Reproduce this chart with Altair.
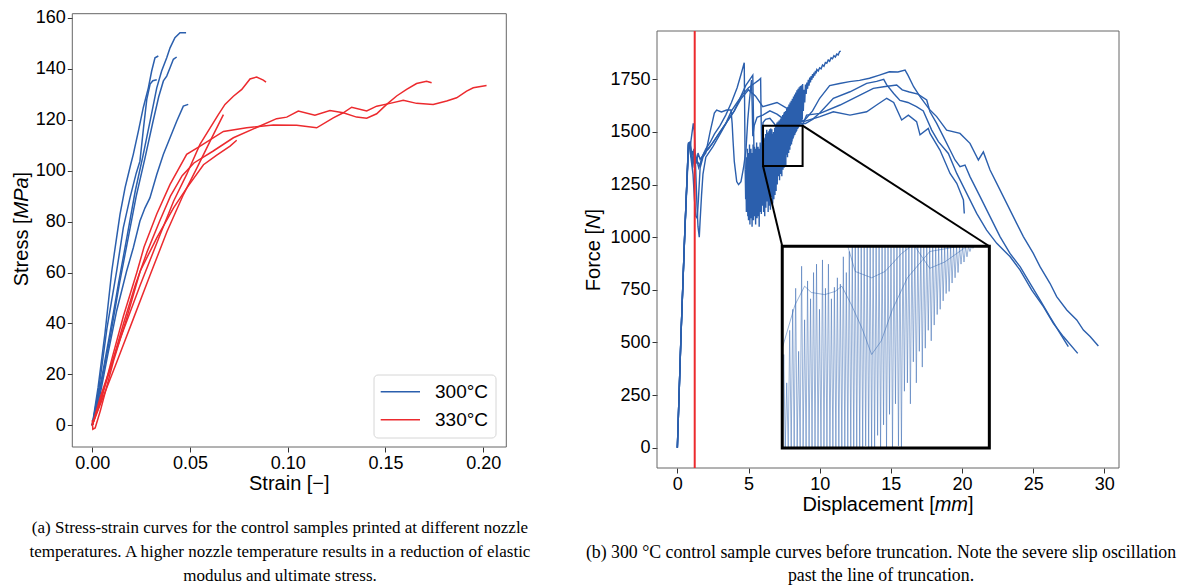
import altair as alt
import pandas as pd

SANS = "Liberation Sans"
SERIF = "Liberation Serif"
BLUE = "#2b5fad"
RED = "#ec2a2e"
FRAME = "#666666"

# ====================== panel (a): stress-strain ======================
SERIES_A = ["300°C", "330°C"]
A_TICKS_X = [0.0, 0.05, 0.10, 0.15, 0.20]
A_TICKS_Y = [0, 20, 40, 60, 80, 100, 120, 140, 160]

A300_1_STRAIN = [0, 0.003, 0.0065, 0.010, 0.0117, 0.0142, 0.0168, 0.0197, 0.021, 0.0236, 0.0261, 0.0287, 0.0304, 0.0321, 0.0338]
A300_1_STRESS = [0, 15, 36, 60.6, 69.7, 82.8, 93.3, 102.5, 106.4, 115.5, 124.7, 132.5, 139.1, 144.3, 145]
A300_2_STRAIN = [0, 0.0035, 0.0075, 0.0125, 0.0159, 0.0193, 0.0225, 0.0244, 0.0262, 0.0279, 0.0296, 0.031, 0.033]
A300_2_STRESS = [0, 15, 38, 60.6, 77.6, 89.3, 99, 103.7, 116.6, 128, 134, 135.3, 135.7]
A300_3_STRAIN = [0, 0.004, 0.009, 0.0135, 0.018, 0.022, 0.026, 0.030, 0.033, 0.0355, 0.0381, 0.0398, 0.0423, 0.0449, 0.048]
A300_3_STRESS = [0, 15, 36, 56, 75, 92, 106, 121, 132.5, 139.1, 144.3, 148.2, 152.2, 154.1, 154.1]
A300_4_STRAIN = [0, 0.004, 0.0095, 0.014, 0.0185, 0.0225, 0.027, 0.031, 0.034, 0.0364, 0.0381, 0.0398, 0.0415, 0.0432]
A300_4_STRESS = [0, 14, 36, 56, 74, 90, 105, 119, 129, 135.2, 137.1, 140.4, 143.7, 144.6]
A300_5_STRAIN = [0, 0.004, 0.008, 0.0125, 0.0176, 0.021, 0.0244, 0.027, 0.0295, 0.033, 0.0364, 0.0398, 0.0432, 0.0466, 0.0491]
A300_5_STRESS = [0, 12, 28, 45, 60.6, 69.7, 80.2, 85.4, 89.3, 98.5, 106.4, 112.9, 119.4, 125.3, 126]

A330_1_STRAIN = [0, 0.0041, 0.0143, 0.0245, 0.0348, 0.0416, 0.0483, 0.0551, 0.0645, 0.0679, 0.0722, 0.0765, 0.0807, 0.0841, 0.0875, 0.0889]
A330_1_STRESS = [0, 11, 34, 55, 75, 88, 98.5, 110.3, 122, 126, 129.2, 131.9, 136.0, 136.7, 135.5, 134.7]
A330_2_STRAIN = [0, 0.004, 0.0126, 0.0211, 0.0296, 0.0382, 0.0467, 0.0535, 0.0603, 0.0671]
A330_2_STRESS = [0, 8, 25, 42, 59, 76, 90.7, 101, 111.6, 122]
A330_3_STRAIN = [0, 0.005, 0.010, 0.016, 0.0228, 0.0265, 0.033, 0.0398, 0.0483, 0.0552, 0.0671, 0.079, 0.0926,
                 0.1046, 0.1148, 0.1233, 0.1284, 0.1327, 0.1404, 0.1455, 0.1523, 0.1591, 0.1659, 0.1744, 0.1813,
                 0.1864, 0.1915, 0.1949, 0.2017]
A330_3_STRESS = [0, 11, 26, 43, 60, 70, 83, 94.6, 106.4, 109.6, 115.4, 116.8, 117.9,
                 117.8, 116.8, 120.7, 122.7, 124.9, 123.4, 125.3, 126.4, 127.6, 126.4, 126, 127.3,
                 128.6, 131.2, 132.5, 133.4]
A330_4_STRAIN = [0, 0.005, 0.010, 0.016, 0.022, 0.028, 0.0344, 0.040, 0.046, 0.052, 0.0619, 0.0722, 0.0858,
                 0.0943, 0.0995, 0.1054, 0.1139, 0.1216, 0.1284, 0.1352, 0.1404, 0.1455, 0.1506, 0.1557,
                 0.1608, 0.1659, 0.171, 0.1736]
A330_4_STRESS = [0, 12, 24, 40, 55, 68, 80, 90, 98, 103, 107.7, 112.9, 117.5,
                 120.4, 121, 123.4, 121.7, 123.6, 122.7, 121, 120.6, 122.3, 126, 129.3,
                 131.9, 134.2, 135.1, 134.5]
A330_5_STRAIN = [0.0, 0.0003, 0.0015, 0.0041, 0.0109, 0.0177, 0.0245, 0.033, 0.0416, 0.0484, 0.0569, 0.0637, 0.0705, 0.0739]
A330_5_STRESS = [2, -1.5, -1, 5.6, 25.3, 42.3, 60.5, 73.6, 85.4, 93.2, 102.3, 106.1, 109.6, 111.9]

A_CURVES = [
    ("300-1", SERIES_A[0], A300_1_STRAIN, A300_1_STRESS),
    ("300-2", SERIES_A[0], A300_2_STRAIN, A300_2_STRESS),
    ("300-3", SERIES_A[0], A300_3_STRAIN, A300_3_STRESS),
    ("300-4", SERIES_A[0], A300_4_STRAIN, A300_4_STRESS),
    ("300-5", SERIES_A[0], A300_5_STRAIN, A300_5_STRESS),
    ("330-1", SERIES_A[1], A330_1_STRAIN, A330_1_STRESS),
    ("330-2", SERIES_A[1], A330_2_STRAIN, A330_2_STRESS),
    ("330-3", SERIES_A[1], A330_3_STRAIN, A330_3_STRESS),
    ("330-4", SERIES_A[1], A330_4_STRAIN, A330_4_STRESS),
    ("330-5", SERIES_A[1], A330_5_STRAIN, A330_5_STRESS),
]

# ====================== panel (b): force-displacement ======================
B_TICKS_X = [0, 5, 10, 15, 20, 25, 30]
B_TICKS_Y = [0, 250, 500, 750, 1000, 1250, 1500, 1750]
TRUNCATION = [1.22]
ZOOM_WINDOW = [6.02, 8.80, 1338, 1530]      # displacement from/to, force from/to
INSET_WINDOW = [7.37, 21.92, -1.4, 957]     # where the magnified view sits (data units)

B_P1 = [(0, 0), (0.26, 540), (0.52, 1015), (0.8, 1445), (0.9, 1440), (1.0, 1380), (1.1, 1350), (1.25, 1400),
        (1.4, 1360), (1.6, 1340), (1.8, 1390), (2.0, 1410), (2.4, 1440), (2.8, 1480), (3.2, 1520), (3.6, 1560),
        (4.0, 1600), (4.4, 1660), (4.8, 1720), (5.1, 1750), (5.3, 1770), (5.34, 1600), (5.38, 1420), (5.6, 1380),
        (5.8, 1400), (6.02, 1433), (6.19, 1474), (6.32, 1492), (6.41, 1486), (6.59, 1484), (6.73, 1487),
        (6.82, 1492), (6.95, 1474), (7.09, 1452), (7.22, 1427), (7.35, 1440), (7.5, 1470), (7.7, 1500),
        (8.0, 1525), (8.4, 1545), (8.8, 1550), (9.0, 1560), (9.5, 1600), (10.0, 1660), (10.7, 1720),
        (11.4, 1730), (12.1, 1739), (12.8, 1745), (13.5, 1755), (14.2, 1770), (14.9, 1786), (15.5, 1785),
        (16.0, 1794), (16.2, 1770), (16.6, 1715), (17.05, 1668), (17.75, 1604), (18.22, 1573), (18.92, 1509),
        (19.86, 1493), (20.56, 1446), (21.15, 1367), (21.5, 1405), (21.97, 1319), (22.44, 1256), (23.14, 1161),
        (23.84, 1066), (24.31, 1003), (25.01, 923), (25.48, 860), (26.18, 781), (26.65, 718), (27.36, 654),
        (28.06, 607), (28.53, 559), (29.0, 528), (29.58, 483)]
B_P2 = [(0, 0), (0.26, 545), (0.52, 1020), (0.78, 1440), (0.88, 1420), (0.95, 1380), (1.05, 1410), (1.2, 1340),
        (1.35, 1370), (1.5, 1330), (1.7, 1370), (1.9, 1400), (2.2, 1420), (2.6, 1460), (3.0, 1500), (3.4, 1540),
        (3.8, 1600), (4.2, 1640), (4.6, 1680), (5.0, 1710), (5.4, 1730), (5.7, 1745), (5.85, 1755), (5.88, 1600),
        (5.92, 1420), (5.98, 1500), (6.02, 1545), (6.2, 1560), (6.5, 1565), (6.8, 1540), (6.9, 1530),
        (7.0, 1506), (7.22, 1500), (7.4, 1506), (7.62, 1523), (7.75, 1535), (8.0, 1545), (8.5, 1540),
        (9.0, 1540), (9.5, 1560), (10.0, 1590), (10.96, 1660), (12.13, 1691), (13.3, 1731), (14.0, 1740),
        (14.5, 1750), (14.7, 1725), (15.2, 1683), (15.64, 1650), (16.2, 1640), (16.8, 1620), (17.28, 1600),
        (17.87, 1509), (18.34, 1454), (19.04, 1398), (19.63, 1303), (20.33, 1208), (21.03, 1113),
        (21.73, 1034), (22.44, 971), (23.37, 908), (24.08, 844), (24.9, 749), (25.72, 670), (26.42, 591),
        (27.12, 528), (28.13, 448)]
B_P3 = [(0, 0), (0.26, 540), (0.52, 1018), (0.78, 1445), (0.85, 1450), (0.95, 1380), (1.1, 1300), (1.2, 1180),
        (1.3, 1100), (1.4, 1090), (1.48, 1180), (1.6, 1330), (1.8, 1380), (2.0, 1400), (2.3, 1500), (2.6, 1590),
        (2.76, 1604), (3.1, 1595), (3.46, 1604), (3.77, 1604), (3.85, 1540), (3.91, 1462), (4.0, 1360),
        (4.17, 1264), (4.3, 1250), (4.47, 1264), (4.65, 1330), (4.82, 1414), (4.95, 1560), (5.07, 1653),
        (5.21, 1747), (5.26, 1620), (5.3, 1480), (5.4, 1530), (5.6, 1570), (6.0, 1580), (6.5, 1600),
        (7.0, 1585), (7.5, 1560), (7.8, 1530), (8.0, 1509), (8.2, 1515), (8.5, 1530), (8.8, 1535),
        (9.08, 1580), (10.02, 1588), (11.43, 1628), (12.83, 1675), (13.77, 1707), (14.5, 1715), (15.41, 1723),
        (15.8, 1700), (16.3, 1690), (16.9, 1680), (17.52, 1652), (17.75, 1596), (18.22, 1541), (18.69, 1478),
        (19.16, 1414), (19.51, 1367), (19.86, 1335), (20.21, 1343), (20.56, 1288), (21.27, 1193),
        (21.97, 1098), (22.67, 1003), (23.37, 923), (24.08, 860), (24.78, 781), (25.48, 702), (26.18, 622),
        (26.89, 543), (27.47, 480)]
B_P4 = [(0, 0), (0.26, 543), (0.52, 1022), (0.78, 1450), (0.9, 1430), (1.0, 1480), (1.12, 1541), (1.2, 1500),
        (1.3, 1300), (1.38, 1150), (1.45, 1050), (1.54, 1000), (1.6, 1080), (1.7, 1200), (1.8, 1300),
        (2.0, 1380), (2.5, 1430), (3.0, 1490), (3.5, 1550), (4.0, 1600), (4.5, 1660), (5.0, 1700), (5.5, 1670),
        (6.0, 1620), (7.0, 1640), (8.0, 1600), (8.85, 1549), (10.02, 1573), (10.96, 1596), (12.13, 1580),
        (13.3, 1596), (14.0, 1628), (14.71, 1660), (15.2, 1640), (15.76, 1557), (16.23, 1580), (16.81, 1549),
        (17.05, 1486), (17.63, 1517), (17.75, 1493), (18.45, 1414), (19.16, 1303), (19.63, 1256), (20.1, 1177),
        (20.16, 1113)]
# the specimen with severe slip oscillation (ends at 11.5 mm)
B_P5 = [(0, 0), (0.26, 538), (0.52, 1016), (0.78, 1442), (0.92, 1450), (1.0, 1400), (1.08, 1330), (1.16, 1420),
        (1.25, 1380), (1.35, 1350), (1.45, 1400), (1.6, 1370), (1.8, 1390), (2.0, 1420), (2.3, 1450),
        (2.6, 1490), (3.0, 1530), (3.4, 1580), (3.8, 1640), (4.2, 1710), (4.5, 1780), (4.7, 1829),
        (4.73, 1600), (4.76, 1350), (4.8, 1180),
        (4.82, 1300), (4.85, 1120), (4.87, 1380), (4.9, 1150), (4.92, 1420), (4.95, 1100), (4.97, 1350),
        (5.0, 1080), (5.02, 1400), (5.05, 1130), (5.07, 1440), (5.1, 1060), (5.12, 1380), (5.15, 1100),
        (5.17, 1420), (5.2, 1090), (5.22, 1360), (5.25, 1050), (5.27, 1400), (5.3, 1120), (5.32, 1440),
        (5.35, 1080), (5.37, 1390), (5.4, 1150), (5.42, 1430), (5.45, 1100), (5.47, 1380), (5.5, 1060),
        (5.52, 1420), (5.55, 1130), (5.57, 1450), (5.6, 1090), (5.62, 1400), (5.65, 1140), (5.67, 1430),
        (5.7, 1100), (5.72, 1380), (5.75, 1050), (5.77, 1420), (5.8, 1120), (5.82, 1450), (5.85, 1160),
        (5.87, 1410), (5.9, 1110), (5.92, 1440), (5.95, 1180), (5.97, 1460), (6.0, 1150),
        (6.02, 1180), (6.04, 1427), (6.06, 1120), (6.08, 1400), (6.10, 1210), (6.12, 1450), (6.14, 1100),
        (6.16, 1470), (6.18, 1250), (6.20, 1490), (6.22, 1140), (6.24, 1430), (6.26, 1230), (6.28, 1511),
        (6.30, 1170), (6.32, 1460), (6.34, 1280), (6.36, 1497), (6.38, 1120), (6.40, 1480), (6.42, 1260),
        (6.44, 1505), (6.46, 1150), (6.48, 1513), (6.50, 1300), (6.52, 1470), (6.54, 1130), (6.56, 1517),
        (6.58, 1270), (6.60, 1490), (6.62, 1190), (6.64, 1513), (6.66, 1310), (6.68, 1480), (6.70, 1160),
        (6.72, 1491), (6.74, 1320), (6.76, 1500), (6.78, 1180), (6.80, 1494), (6.82, 1300), (6.84, 1520),
        (6.86, 1200), (6.88, 1505), (6.90, 1330), (6.92, 1525), (6.94, 1220), (6.96, 1538), (6.98, 1320),
        (7.00, 1545), (7.02, 1250), (7.04, 1540), (7.06, 1330), (7.08, 1550), (7.10, 1290), (7.12, 1545),
        (7.14, 1340), (7.16, 1555), (7.18, 1270), (7.20, 1548), (7.22, 1330), (7.24, 1560), (7.26, 1300),
        (7.28, 1565), (7.30, 1350), (7.32, 1558), (7.34, 1290), (7.36, 1572), (7.38, 1360), (7.40, 1580),
        (7.42, 1320), (7.44, 1570), (7.46, 1370), (7.48, 1588), (7.50, 1330), (7.52, 1595), (7.54, 1380),
        (7.56, 1585), (7.58, 1340), (7.60, 1600), (7.62, 1335), (7.64, 1598), (7.66, 1392), (7.68, 1612),
        (7.70, 1400), (7.72, 1605), (7.74, 1380), (7.76, 1620), (7.78, 1420), (7.80, 1612), (7.82, 1400),
        (7.84, 1630), (7.86, 1430), (7.88, 1622), (7.90, 1415), (7.92, 1640), (7.94, 1433), (7.96, 1632),
        (7.98, 1450), (8.00, 1648), (8.02, 1440), (8.04, 1640), (8.06, 1455), (8.08, 1658), (8.10, 1465),
        (8.12, 1650), (8.14, 1470), (8.16, 1668), (8.18, 1478), (8.20, 1660), (8.22, 1485), (8.24, 1678),
        (8.26, 1487), (8.28, 1670), (8.30, 1495), (8.32, 1688), (8.34, 1500), (8.36, 1680), (8.38, 1505),
        (8.40, 1698), (8.42, 1513), (8.44, 1690), (8.46, 1515), (8.48, 1705), (8.50, 1520), (8.52, 1698),
        (8.54, 1525), (8.56, 1712), (8.58, 1528), (8.60, 1705), (8.62, 1535), (8.64, 1718), (8.66, 1540),
        (8.68, 1710), (8.70, 1545), (8.72, 1722), (8.74, 1555), (8.76, 1715), (8.78, 1560), (8.80, 1728),
        (8.85, 1600), (8.9, 1700), (8.95, 1640), (9.0, 1725), (9.05, 1680), (9.1, 1735), (9.15, 1705),
        (9.2, 1748), (9.25, 1720), (9.3, 1758), (9.35, 1735), (9.4, 1765), (9.45, 1748), (9.5, 1775),
        (9.55, 1758), (9.6, 1782), (9.65, 1768), (9.7, 1790), (9.75, 1778), (9.8, 1797), (9.9, 1790),
        (10.0, 1805), (10.1, 1800), (10.2, 1818), (10.3, 1812), (10.4, 1830), (10.5, 1826), (10.6, 1842),
        (10.7, 1836), (10.8, 1852), (10.9, 1848), (11.0, 1862), (11.1, 1856), (11.2, 1870), (11.3, 1866),
        (11.4, 1882), (11.48, 1884)]
B_CURVES = [("P1", B_P1), ("P2", B_P2), ("P3", B_P3), ("P4", B_P4), ("P5", B_P5)]

CAPTION_A = ["(a) Stress-strain curves for the control samples printed at different nozzle",
             "temperatures. A higher nozzle temperature results in a reduction of elastic",
             "modulus and ultimate stress."]
CAPTION_B = ["(b) 300 °C control sample curves before truncation. Note the severe slip oscillation",
             "past the line of truncation."]

# ====================== tables ======================
rows_a = []
for name, series, xs, ys in A_CURVES:
    for i, (x, y) in enumerate(zip(xs, ys)):
        rows_a.append({"curve": name, "series": series, "strain": x, "stress": y, "idx": i})
df_a = pd.DataFrame(rows_a)

rows_b = []
for name, pts in B_CURVES:
    for i, (d, f) in enumerate(pts):
        rows_b.append({"curve": name, "d": d, "f": f, "idx": i})
df_b = pd.DataFrame(rows_b)

ONE = pd.DataFrame({"k": [0]})

# ====================== layout (chart pixels) ======================
W, H = 1173, 579
XA_RNG, YA_RNG = [64.3, 498.3], [439.0, 5.7]
XB_RNG, YB_RNG = [649.0, 1111.0], [460.0, 23.0]


def xa():
    return alt.Scale(domain=[-0.0102, 0.2118], range=XA_RNG, nice=False, zero=False)


def ya():
    return alt.Scale(domain=[-8.5, 161.6], range=YA_RNG, nice=False, zero=False)


def xb():
    return alt.Scale(domain=[-1.43, 31.03], range=XB_RNG, nice=False, zero=False)


def yb():
    return alt.Scale(domain=[-96.4, 1979.6], range=YB_RNG, nice=False, zero=False)


ax_kw = dict(title=None, grid=False, domain=False, labelFlush=False, labelOverlap=False)
AXA_X = alt.Axis(orient="bottom", offset=YA_RNG[0] - H, values=A_TICKS_X, format=".2f", **ax_kw)
AXA_Y = alt.Axis(orient="left", offset=-XA_RNG[0], values=A_TICKS_Y, format="d", **ax_kw)
AXB_X = alt.Axis(orient="bottom", offset=YB_RNG[0] - H, values=B_TICKS_X, format="d", **ax_kw)
AXB_Y = alt.Axis(orient="left", offset=-XB_RNG[0], values=B_TICKS_Y, format="d", **ax_kw)

# ---- panel (a)
panel_a = alt.Chart(df_a).mark_line(strokeWidth=1.5).encode(
    x=alt.X("strain:Q", scale=xa(), axis=AXA_X),
    y=alt.Y("stress:Q", scale=ya(), axis=AXA_Y),
    color=alt.Color("series:N", scale=alt.Scale(domain=SERIES_A, range=[BLUE, RED]), legend=None),
    detail="curve:N",
    order="idx:Q",
)

# ---- panel (b)
b_main = alt.Chart(df_b).mark_line(color=BLUE, strokeWidth=1.4).encode(
    x=alt.X("d:Q", scale=xb(), axis=AXB_X),
    y=alt.Y("f:Q", scale=yb(), axis=AXB_Y),
    detail="curve:N",
    order="idx:Q",
)
b_trunc = alt.Chart(pd.DataFrame({"x": TRUNCATION})).mark_rule(color=RED, strokeWidth=2).encode(
    x=alt.X("x:Q", scale=xb(), axis=None),
    y=alt.value(YB_RNG[1]),
    y2=alt.value(YB_RNG[0]),
)
zoom_df = pd.DataFrame({"x0": [ZOOM_WINDOW[0]], "x1": [ZOOM_WINDOW[1]],
                        "y0": [ZOOM_WINDOW[2]], "y1": [ZOOM_WINDOW[3]]})
b_zoom = alt.Chart(zoom_df).mark_rect(fill="transparent", stroke="black", strokeWidth=2).encode(
    x=alt.X("x0:Q", scale=xb(), axis=None), x2="x1:Q",
    y=alt.Y("y0:Q", scale=yb(), axis=None), y2="y1:Q",
)
conn_df = pd.DataFrame({
    "x": [ZOOM_WINDOW[1], ZOOM_WINDOW[0]],
    "y": [ZOOM_WINDOW[3], ZOOM_WINDOW[2]],
    "x2": [INSET_WINDOW[1], INSET_WINDOW[0]],
    "y2": [INSET_WINDOW[3], INSET_WINDOW[3]],
})
b_conn = alt.Chart(conn_df).mark_rule(color="black", strokeWidth=2).encode(
    x=alt.X("x:Q", scale=xb(), axis=None), x2="x2:Q",
    y=alt.Y("y:Q", scale=yb(), axis=None), y2="y2:Q",
)
inset_df = pd.DataFrame({"x0": [INSET_WINDOW[0]], "x1": [INSET_WINDOW[1]],
                         "y0": [INSET_WINDOW[2]], "y1": [INSET_WINDOW[3]]})
b_inset_bg = alt.Chart(inset_df).mark_rect(fill="white", strokeWidth=0).encode(
    x=alt.X("x0:Q", scale=xb(), axis=None), x2="x1:Q",
    y=alt.Y("y0:Q", scale=yb(), axis=None), y2="y1:Q",
)
sx = (INSET_WINDOW[1] - INSET_WINDOW[0]) / (ZOOM_WINDOW[1] - ZOOM_WINDOW[0])
sy = (INSET_WINDOW[3] - INSET_WINDOW[2]) / (ZOOM_WINDOW[3] - ZOOM_WINDOW[2])
b_inset_lines = alt.Chart(df_b).transform_filter(
    (alt.datum.d >= ZOOM_WINDOW[0]) & (alt.datum.d <= ZOOM_WINDOW[1])
).transform_calculate(
    xm=f"{INSET_WINDOW[0]} + (datum.d - {ZOOM_WINDOW[0]}) * {sx}",
    ym=f"{INSET_WINDOW[2]} + (clamp(datum.f, {ZOOM_WINDOW[2]}, {ZOOM_WINDOW[3]}) - {ZOOM_WINDOW[2]}) * {sy}",
).mark_line(color=BLUE, strokeWidth=0.8, opacity=0.6).encode(
    x=alt.X("xm:Q", scale=xb(), axis=None),
    y=alt.Y("ym:Q", scale=yb(), axis=None),
    detail="curve:N",
    order="idx:Q",
)
b_inset_border = alt.Chart(inset_df).mark_rect(fill="transparent", stroke="black", strokeWidth=3).encode(
    x=alt.X("x0:Q", scale=xb(), axis=None), x2="x1:Q",
    y=alt.Y("y0:Q", scale=yb(), axis=None), y2="y1:Q",
)
panel_b = [b_main, b_trunc, b_zoom, b_conn, b_inset_bg, b_inset_lines, b_inset_border]


# ---- decorations (frames, titles, legend, captions)
def frame(x0, x1, y0, y1):
    return alt.Chart(ONE).mark_rect(fill="transparent", stroke=FRAME, strokeWidth=1).encode(
        x=alt.value(x0), x2=alt.value(x1), y=alt.value(y0), y2=alt.value(y1))


def label(txt, x, y, size=20, font=SANS, align="center", baseline="alphabetic", angle=0, style="normal"):
    kw = dict(text=txt, font=font, fontSize=size, align=align, baseline=baseline, color="black",
              fontStyle=style)
    if angle:
        kw["angle"] = angle
    return alt.Chart(ONE).mark_text(**kw).encode(x=alt.value(x), y=alt.value(y))


frames = [
    frame(XA_RNG[0], XA_RNG[1], YA_RNG[1], YA_RNG[0]),
    frame(XB_RNG[0], XB_RNG[1], YB_RNG[1], YB_RNG[0]),
]
deco = [
    # axis titles
    label("Strain [−]", 281.3, 482),
    label("Stress [", 20.3, 210.5, align="right", angle=270),
    label("MPa", 20.3, 210.5, align="left", angle=270, style="italic"),
    label("]", 20.3, 169.4, align="left", angle=270),
    label("Displacement [", 926.7, 503, align="right"),
    label("mm", 926.7, 503, align="left", style="italic"),
    label("]", 960.0, 503, align="left"),
    label("Force [", 591.6, 220.9, align="right", angle=270),
    label("N", 591.6, 220.9, align="left", angle=270, style="italic"),
    label("]", 591.6, 206.5, align="left", angle=270),
]

# legend for panel (a)
deco.append(alt.Chart(ONE).mark_rect(fill="white", stroke="#d6d6d6", strokeWidth=1, cornerRadius=4).encode(
    x=alt.value(366), x2=alt.value(488), y=alt.value(367), y2=alt.value(430)))
for i, (name, col) in enumerate(zip(SERIES_A, [BLUE, RED])):
    yy = 383.7 + 28 * i
    deco.append(alt.Chart(ONE).mark_rule(color=col, strokeWidth=1.5).encode(
        x=alt.value(372.7), x2=alt.value(412), y=alt.value(yy)))
    deco.append(label(name, 427, yy, size=19, align="left", baseline="middle"))

# captions
for i, line in enumerate(CAPTION_A):
    deco.append(label(line, 272, 520 + 24 * i, size=17, font=SERIF, baseline="middle"))
for i, line in enumerate(CAPTION_B):
    deco.append(label(line, 873, 545 + 23 * i, size=17.8, font=SERIF, baseline="middle"))

chart = alt.layer(*frames, panel_a, *panel_b, *deco).resolve_scale(
    x="independent", y="independent", color="independent"
).properties(
    width=W, height=H, padding=0, autosize=alt.AutoSizeParams(type="none")
).configure_view(
    stroke="transparent", strokeWidth=0
).configure_axis(
    labelFont=SANS, labelFontSize=18, labelColor="black", tickColor="#333333",
    tickSize=5, tickWidth=1, labelPadding=2,
)

chart.save("out.html", embed_options={"renderer": "svg", "actions": False})
